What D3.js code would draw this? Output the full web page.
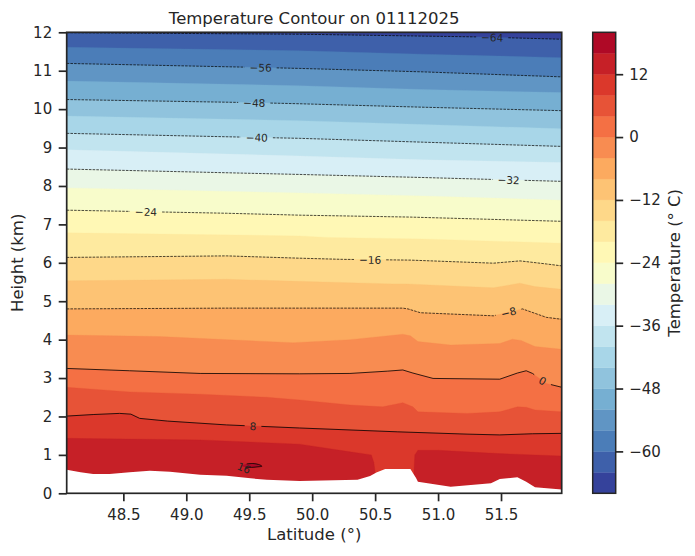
<!DOCTYPE html>
<html><head><meta charset="utf-8">
<script src="https://cdn.jsdelivr.net/npm/d3@7"></script>
<style>
body{margin:0;background:#fff}
text{font-family:"DejaVu Sans",sans-serif;fill:#262626}
</style>
</head><body>
<svg id="c" width="695" height="556"></svg>
<script>
// ---------------- DATA ----------------
const titleText = "Temperature Contour on 01112025";
const bandLevels = [-68,-64,-60,-56,-52,-48,-44,-40,-36,-32,-28,-24,-20,-16,-12,-8,-4,0,4,8,12,16,20];
const lineLevels = [-64,-56,-48,-40,-32,-24,-16,-8,0,8];
const lineLabelLats = [51.43,49.59,49.54,49.56,51.56,48.68,50.46,51.56,51.83,49.53];
const xTicks = [48.5,49.0,49.5,50.0,50.5,51.0,51.5];
const yTicks = [0,1,2,3,4,5,6,7,8,9,10,11,12];
const cbTicks = [-60,-48,-36,-24,-12,0,12];
const latDomain = [48.05, 51.982];
const heightDomain = [0, 12];

// isotherm heights (km) along latitude (deg): [lat, height]
const iso_m64 = [[48.05,11.99],[49.90,11.95],[51.31,11.88],[51.982,11.82]];
const iso_m60 = [[48.05,11.61],[49.90,11.52],[50.88,11.43],[51.982,11.34]];
const iso_m56 = [[48.05,11.19],[49.51,11.09],[49.90,11.06],[50.88,10.97],[51.982,10.84]];
const iso_m52 = [[48.05,10.73],[49.90,10.61],[50.88,10.51],[51.982,10.43]];
const iso_m48 = [[48.05,10.25],[49.51,10.17],[49.90,10.14],[50.88,10.05],[51.982,9.96]];
const iso_m44 = [[48.05,9.82],[49.90,9.70],[50.88,9.60],[51.982,9.49]];
const iso_m40 = [[48.05,9.37],[49.90,9.24],[50.88,9.14],[51.982,9.03]];
const iso_m36 = [[48.05,8.94],[49.90,8.78],[50.88,8.68],[51.982,8.61]];
const iso_m32 = [[48.05,8.44],[49.90,8.30],[50.88,8.22],[51.982,8.12]];
const iso_m28 = [[48.05,7.95],[49.90,7.82],[50.88,7.74],[51.982,7.63]];
const iso_m24 = [[48.05,7.37],[49.32,7.29],[49.90,7.24],[50.78,7.19],[51.982,7.08]];
const iso_m20 = [[48.05,6.78],[49.90,6.70],[50.12,6.66],[50.88,6.62],[51.982,6.51]];
const iso_m16 = [[48.05,6.14],[49.32,6.18],[49.90,6.12],[50.24,6.09],[50.78,6.07],[51.44,5.99],[51.65,6.05],[51.86,5.97],[51.982,5.92]];
const iso_m12 = [[48.05,5.53],[49.32,5.57],[50.64,5.45],[50.75,5.45],[51.44,5.35],[51.65,5.47],[51.77,5.38],[51.982,5.31]];
const iso_m8  = [[48.05,4.80],[49.32,4.82],[50.72,4.82],[50.76,4.80],[50.86,4.70],[51.44,4.62],[51.67,4.80],[51.86,4.58],[51.982,4.53]];
const iso_m4  = [[48.05,4.12],[48.79,4.08],[49.85,3.92],[50.30,4.00],[50.72,4.14],[50.78,4.10],[50.84,3.95],[51.10,3.86],[51.49,3.90],[51.59,4.01],[51.66,3.98],[51.77,3.82],[51.982,3.75]];
const iso_0   = [[48.05,3.25],[48.55,3.19],[49.11,3.12],[49.90,3.11],[50.30,3.12],[50.60,3.18],[50.72,3.21],[50.80,3.13],[50.96,2.99],[51.49,2.97],[51.63,3.13],[51.70,3.19],[51.75,3.12],[51.86,2.86],[51.982,2.76]];
const iso_4   = [[48.05,2.76],[48.55,2.64],[49.11,2.58],[49.64,2.50],[49.90,2.43],[50.30,2.30],[50.56,2.25],[50.72,2.36],[50.80,2.25],[50.84,2.12],[51.23,2.08],[51.49,2.12],[51.63,2.25],[51.70,2.24],[51.77,2.17],[51.982,2.12]];
const iso_8   = [[48.05,2.01],[48.26,2.05],[48.47,2.08],[48.56,2.06],[48.63,1.95],[48.85,1.88],[49.32,1.78],[49.90,1.70],[50.68,1.60],[51.23,1.54],[51.49,1.52],[51.75,1.55],[51.982,1.56]];
const iso_12  = [[48.05,1.43],[48.85,1.40],[49.11,1.39],[49.90,1.28],[50.30,1.08],[50.47,1.00],[50.49,0.80],[50.50,0.55],[50.51,0.0],[50.80,0.0],[50.815,1.00],[50.84,1.12],[51.00,1.12],[51.44,1.04],[51.982,0.97]];
const isothermLevels = [-64,-60,-56,-52,-48,-44,-40,-36,-32,-28,-24,-20,-16,-12,-8,-4,0,4,8,12];
const isothermPoints = [iso_m64,iso_m60,iso_m56,iso_m52,iso_m48,iso_m44,iso_m40,iso_m36,iso_m32,iso_m28,iso_m24,iso_m20,iso_m16,iso_m12,iso_m8,iso_m4,iso_0,iso_4,iso_8,iso_12];

// closed 16 °C warm core
const warmCore = [[49.44,0.72],[49.48,0.765],[49.53,0.775],[49.575,0.75],[49.60,0.705],[49.57,0.69],[49.52,0.675],[49.47,0.68]];
const warmCoreLabel = [49.458, 0.665];
// lower edge of valid data (white below)
const surface = [[48.05,0.61],[48.16,0.55],[48.26,0.50],[48.39,0.50],[48.55,0.55],[48.71,0.59],[48.87,0.56],[49.11,0.48],[49.32,0.46],[49.51,0.39],[49.64,0.35],[49.90,0.32],[50.36,0.35],[50.46,0.45],[50.51,0.54],[50.58,0.63],[50.78,0.63],[50.825,0.40],[50.84,0.30],[51.10,0.17],[51.42,0.26],[51.49,0.37],[51.63,0.42],[51.70,0.30],[51.77,0.16],[51.982,0.10]];

const rdylbu = ["#a50026","#d73027","#f46d43","#fdae61","#fee090","#ffffbf","#e0f3f8","#abd9e9","#74add1","#4575b4","#313695"];

// ---------------- CHART ----------------
const svg = d3.select("#c");
const X0 = 66.7, X1 = 561.7, Y0 = 493.3, Y1 = 32.3;
const x = d3.scaleLinear().domain(latDomain).range([X0, X1]);
const y = d3.scaleLinear().domain(heightDomain).range([Y0, Y1]);
const vmin = bandLevels[0], vmax = bandLevels[bandLevels.length-1];
const cb = d3.scaleLinear().domain([vmin, vmax]).range([Y0, Y1]);
const ramp = d3.piecewise(d3.interpolateRgb, rdylbu.slice().reverse());
const color = v => { const t = (v - vmin)/(vmax - vmin); return ramp(Math.min(255, Math.floor(t*256))/255); };
const ink = "#262626";

svg.append("defs").append("clipPath").attr("id","clip")
  .append("rect").attr("x",X0).attr("y",Y1).attr("width",X1-X0).attr("height",Y0-Y1);
const plot = svg.append("g").attr("clip-path","url(#clip)");

const area = d3.area().x(d=>x(d[0])).y0(y(0)).y1(d=>y(d[1]));
const ptsFor = lev => isothermPoints[isothermLevels.indexOf(lev)];

for (let i = 0; i < bandLevels.length-1; i++) {
  const lo = bandLevels[i], mid = (lo + bandLevels[i+1])/2;
  if (i === 0) {
    plot.append("rect").attr("x",X0).attr("y",Y1).attr("width",X1-X0).attr("height",Y0-Y1).attr("fill",color(mid));
  } else if (isothermLevels.includes(lo)) {
    plot.append("path").datum(ptsFor(lo)).attr("d",area).attr("fill",color(mid)).attr("stroke",color(mid)).attr("stroke-width",0.3);
  } else {
    plot.append("path").datum(warmCore)
      .attr("d", d3.line().x(d=>x(d[0])).y(d=>y(d[1])).curve(d3.curveCardinalClosed)(warmCore))
      .attr("fill", color(mid));
  }
}
// missing data below
plot.append("path").datum(surface).attr("d",area).attr("fill","#fff");

// contour lines + labels
const line = d3.line().x(d=>x(d[0])).y(d=>y(d[1]));
const lines = svg.append("g").attr("clip-path","url(#clip)");
const labels = svg.append("g");
const fmt = d3.format("d");
lineLevels.forEach((lev, k) => {
  const pts = ptsFor(lev);
  const s = d3.scaleLinear().domain(pts.map(p=>p[0])).range(pts.map(p=>p[1]));
  const Lc = lineLabelLats[k];
  const t = labels.append("text").text(fmt(lev)).attr("font-size","10.5px").attr("fill","#111")
    .attr("text-anchor","middle").attr("dominant-baseline","central");
  const w = t.node().getComputedTextLength();
  const half = x.invert(x(Lc) + w/2 + 5) - Lc;
  const g0 = Lc - half, g1 = Lc + half;
  const seg1 = pts.filter(p=>p[0] < g0).concat([[g0, s(g0)]]);
  const seg2 = [[g1, s(g1)]].concat(pts.filter(p=>p[0] > g1));
  const dashed = lev < 0;
  [seg1, seg2].forEach(seg => {
    lines.append("path").attr("d", line(seg)).attr("fill","none")
      .attr("stroke","#000").attr("stroke-width", dashed ? 0.7 : 0.8)
      .attr("stroke-dasharray", dashed ? "2.6,1.1" : null);
  });
  const ang = Math.atan2(y(s(g1)) - y(s(g0)), x(g1) - x(g0)) * 180/Math.PI;
  t.attr("transform", `translate(${x(Lc)},${y(s(Lc))}) rotate(${ang})`);
});
// warm core outline (open where label sits)
lines.append("path").attr("d", d3.line().x(d=>x(d[0])).y(d=>y(d[1])).curve(d3.curveCardinal)(warmCore.slice(1).concat([warmCore[0]]).filter(p=>p[0]>=49.46)))
  .attr("fill","none").attr("stroke","#000").attr("stroke-width",0.8);
labels.append("text").text("16").attr("font-size","10.5px").attr("fill","#111")
  .attr("text-anchor","middle").attr("dominant-baseline","central")
  .attr("transform", `translate(${x(warmCoreLabel[0])},${y(warmCoreLabel[1])}) rotate(22)`);

// axes
const styleAxis = g => {
  g.select(".domain").remove();
  g.selectAll(".tick line").attr("stroke",ink).attr("stroke-width",1.7);
  g.selectAll(".tick text").attr("fill",ink).style("font-size","15px").style("font-family","DejaVu Sans");
};
svg.append("g").attr("transform",`translate(0,${Y0})`)
  .call(d3.axisBottom(x).tickValues(xTicks).tickFormat(d3.format(".1f")).tickSize(8).tickPadding(8)).call(styleAxis);
svg.append("g").attr("transform",`translate(${X0},0)`)
  .call(d3.axisLeft(y).tickValues(yTicks).tickFormat(d3.format("d")).tickSize(8).tickPadding(6.5)).call(styleAxis);
svg.append("rect").attr("x",X0).attr("y",Y1).attr("width",X1-X0).attr("height",Y0-Y1)
  .attr("fill","none").attr("stroke",ink).attr("stroke-width",1.7);

// colorbar
const CB0 = 592.7, CB1 = 615.7;
const cbg = svg.append("g");
for (let i = 0; i < bandLevels.length-1; i++) {
  const a = bandLevels[i], b = bandLevels[i+1];
  cbg.append("rect").attr("x",CB0).attr("width",CB1-CB0)
    .attr("y",cb(b)).attr("height",cb(a)-cb(b)).attr("fill",color((a+b)/2))
    .attr("stroke",color((a+b)/2)).attr("stroke-width",0.3);
}
cbg.append("rect").attr("x",CB0).attr("y",Y1).attr("width",CB1-CB0).attr("height",Y0-Y1)
  .attr("fill","none").attr("stroke",ink).attr("stroke-width",1.5);
svg.append("g").attr("transform",`translate(${CB1},0)`)
  .call(d3.axisRight(cb).tickValues(cbTicks).tickFormat(fmt).tickSize(7.5).tickPadding(6)).call(styleAxis);

// texts
svg.append("text").text(titleText).attr("x",(X0+X1)/2).attr("y",24).attr("text-anchor","middle").style("font-size","16.5px");
svg.append("text").text("Latitude (°)").attr("x",(X0+X1)/2).attr("y",540).attr("text-anchor","middle").style("font-size","16.5px");
svg.append("text").text("Height (km)").attr("transform",`translate(22.7,${(Y0+Y1)/2}) rotate(-90)`).attr("text-anchor","middle").style("font-size","16.5px");
svg.append("text").text("Temperature (° C)").attr("transform",`translate(680,${(Y0+Y1)/2}) rotate(-90)`).attr("text-anchor","middle").style("font-size","16.5px");
</script>
</body></html>
